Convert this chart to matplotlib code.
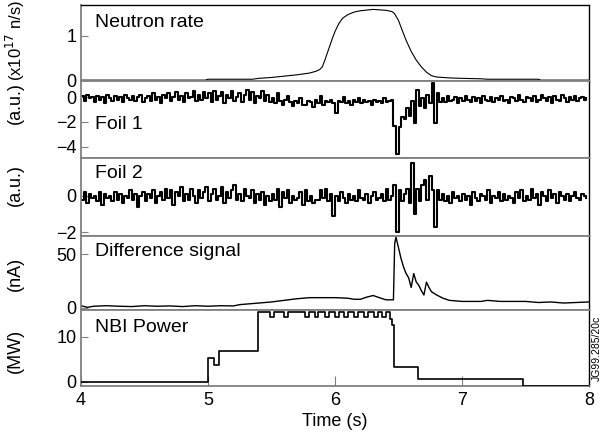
import numpy as np
import matplotlib
matplotlib.use("Agg")
import matplotlib.pyplot as plt

plt.rcParams['font.family'] = ['Liberation Sans', 'DejaVu Sans']

# --- data ---
t_neutron = [4.0, 4.98, 5.0, 5.35, 5.4, 5.5, 5.6, 5.7, 5.8, 5.85, 5.88, 5.9, 5.92, 5.95, 5.98,
             6.0, 6.03, 6.06, 6.1, 6.15, 6.2, 6.3, 6.4, 6.45, 6.47, 6.5, 6.53, 6.56, 6.6,
             6.64, 6.68, 6.72, 6.76, 6.8, 6.9, 7.0, 7.15, 7.2, 7.6, 7.62, 8.0]
neutron = [0, 0, 0.02, 0.02, 0.04, 0.06, 0.09, 0.12, 0.16, 0.2, 0.24, 0.3, 0.45, 0.7, 0.95,
           1.1, 1.28, 1.4, 1.48, 1.54, 1.57, 1.6, 1.58, 1.55, 1.5, 1.35, 1.12, 0.9, 0.65,
           0.45, 0.3, 0.18, 0.1, 0.07, 0.05, 0.04, 0.03, 0.02, 0.02, 0.0, 0.0]

# foil signals sampled every 20 ms from 4.00 s
t_foil = np.arange(200) * 0.02 + 4.0
foil1 = [0.1, -0.3, 0.2, -0.1, 0.0, -0.4, 0.1, -0.2, 0.0, -0.5,
         0.2, -0.1, -0.3, 0.1, -0.2, 0.0, -0.4, 0.2, -0.1, -0.2,
         0.1, -0.3, 0.0, 0.2, -0.4, -0.1, 0.1, -0.3, 0.3, -0.2,
         0.0, -0.5, 0.2, -0.1, 0.3, -0.3, 0.0, 0.4, -0.2, 0.1,
         -0.4, 0.3, -0.1, 0.0, 0.5, -0.3, 0.2, -0.2, 0.4, -0.1,
         0.3, -0.4, 0.5, -0.2, 0.1, 0.4, -0.5, 0.2, -0.1, 0.5,
         -0.3, 0.0, 0.3, -0.4, 0.2, 0.6, -0.2, 0.4, -0.5, 0.1,
         -0.1, 0.5, -0.3, 0.2, -0.4,
         -0.1, -0.5, 0.3, -0.3, -0.6, -0.2, 0.1, -0.4, -0.7, -0.3,
         -0.5, -0.1, -0.6, -0.6, -0.3, -0.4, -0.8, -0.2, -0.5, 0.1,
         -0.6, -0.3, -0.4, -0.2, -0.5, -1.3, -0.3, -0.4, 0.0, -0.5,
         -0.3, -0.6, -0.2, -0.4, -0.1,
         -0.5, -0.2, -0.4, -0.3, -0.6, -0.2, -0.4, -0.3, -0.5, -0.1, -0.4, -0.3, -0.2,
         -2.3, -4.6, -2.4, -1.6, -1.8, -0.9, -1.5, -0.3, -2.1, 0.6,
         -0.7, -0.1, -0.9, 0.2, -0.5, 1.1, -2.1, 0.3, -0.4,
         -0.1, -0.4, 0.1, -0.3, -0.2, 0.0, -0.5, -0.1, -0.3, 0.1,
         -0.2, -0.4, 0.0, -0.3, -0.1, -0.5, 0.1, -0.2, -0.3, 0.0,
         -0.4, -0.1, -0.2, 0.1, -0.3, -0.2, -0.5, 0.0, -0.1, -0.3,
         0.2, -0.2, -0.4, 0.0, -0.1, -0.3, 0.1, -0.4, -0.2, 0.2,
         -0.1, -0.3, 0.0, -0.5, 0.1, -0.2, -0.3, 0.2, -0.1, -0.4,
         0.0, -0.2, 0.1, -0.3, -0.1, 0.0, -0.2, -0.1]
foil2 = [-0.2, 0.2, -0.4, 0.1, -0.1, 0.0, -0.3, 0.2, -0.5, 0.1,
         -0.1, 0.0, -0.3, 0.2, -0.2, 0.1, -0.4, 0.0, -0.1, 0.3,
         -0.2, 0.1, -0.6, 0.0, 0.2, -0.3, 0.1, -0.1, 0.3, -0.4,
         0.0, 0.2, -0.2, 0.4, -0.1, 0.3, -0.5, 0.2, 0.0, 0.5,
         -0.3, 0.1, -0.2, 0.4, 0.0, -0.4, 0.3, -0.1, 0.2, 0.5,
         -0.3, 0.1, 0.4, -0.2, 0.0, 0.5, -0.4, 0.2, -0.1, 0.3,
         0.6, -0.2, 0.1, -0.3, 0.4, 0.0, -0.1, 0.3, -0.4, 0.1,
         -0.2, 0.2, -0.5, 0.0, -0.3, 0.1, -0.2, 0.4, -0.6, 0.2,
         -0.1, 0.3, -0.4, 0.0, -0.2, -0.1, 0.2, -0.5, 0.3, -0.3,
         0.0, -0.4, -0.2, -0.2, 0.3, -0.1, 0.4, -0.3, 0.1, -1.1,
         0.0, -0.3, 0.2, -0.1, -0.4, 0.1, -0.2, 0.0, -0.3, 0.3,
         -0.1, -0.2, 0.1, -0.4, 0.0, 0.2, -0.2, -0.1, 0.1, -0.3,
         0.4, -0.2, 0.0,
         0.6, -2.0, 0.3, -0.3, 0.1, 0.4, -0.4, 1.8, -1.0, 0.4,
         -0.3, 0.6, 0.9, -0.2, 1.1, 0.3, -1.7, 0.3, -0.2,
         0.1, -0.3, 0.0, -0.4, 0.2, -0.1, 0.0, -0.3, 0.1, -0.2,
         0.0, -0.5, 0.2, -0.1, -0.3, 0.1, 0.0, -0.2, 0.3, -0.4,
         0.0, -0.1, 0.2, -0.3, 0.1, -0.2, 0.0, -0.1, -0.4, 0.2,
         -0.1, 0.3, -0.3, 0.0, -0.2, 0.4, -0.1, 0.1, -0.5, 0.2,
         0.0, -0.3, 0.3, -0.1, 0.1, -0.4, 0.2, 0.0, -0.2, 0.1,
         -0.3, 0.0, 0.2, -0.1, -0.2, 0.1, 0.0, -0.1]

t_diff = [4.0, 4.05, 4.1, 4.2, 4.3, 4.4, 4.5, 4.6, 4.7, 4.8, 4.9, 5.0, 5.1, 5.2, 5.25, 5.3,
          5.4, 5.5, 5.6, 5.7, 5.8, 5.9, 6.0, 6.1, 6.15, 6.2, 6.25, 6.3, 6.35, 6.4, 6.46,
          6.47, 6.48, 6.5, 6.52, 6.54, 6.56, 6.58, 6.6, 6.62, 6.64, 6.66, 6.68, 6.7, 6.72,
          6.74, 6.76, 6.8, 6.85, 6.9, 7.0, 7.1, 7.15, 7.2, 7.3, 7.4, 7.5, 7.6, 7.7, 7.8,
          7.9, 8.0]
diff = [2, 0.5, 1.5, 2, 1.5, 1.2, 2, 1.5, 1.8, 1.2, 2, 1.5, 2, 1.8, 3, 3.5,
        4.5, 5.5, 7, 8.5, 9.5, 9.5, 9.5, 9, 8, 8, 10, 11.5, 9.5, 7.5, 7.5,
        60, 66, 56, 46, 38, 32, 28, 19, 32, 24, 21, 16, 12, 24,
        19, 15, 12, 9, 7, 6, 6, 6, 7, 6, 6, 6, 5, 5.5, 4.5,
        5, 5.5]

t_nbi = [4.0, 5.0, 5.05, 5.09, 5.39, 5.49, 5.52, 5.60, 5.63, 5.76, 5.795, 5.84, 5.87, 5.92,
         5.95, 6.0, 6.03, 6.07, 6.10, 6.15, 6.18, 6.23, 6.26, 6.31, 6.34, 6.37, 6.40, 6.43,
         6.45, 6.465, 6.65, 7.48, 8.0]
nbi = [0, 5.2, 3.6, 6.8, 15.4, 14.4, 15.4, 14.4, 15.4, 14.4, 15.4, 14.4, 15.4, 14.4,
       15.4, 14.4, 15.4, 14.4, 15.4, 14.4, 15.4, 14.4, 15.4, 14.4, 15.4, 14.4, 15.4, 14.0,
       12.6, 3.2, 0.6, -0.9, -0.9]

panel_names = ["Neutron rate", "Foil 1", "Foil 2", "Difference signal", "NBI Power"]
y_units = [r"(x10$^{17}$ n/s)", "(a.u.)", "(a.u.)", "(nA)", "(MW)"]
y_ticks = [[0, 1], [0, -2, -4], [0, -2], [0, 50], [0, 10]]
y_limits = [(-0.02, 1.70), (-4.9, 1.3), (-2.2, 2.1), (-2, 67), (-1.0, 15.9)]
x_ticks = [4, 5, 6, 7, 8]

# --- layout (pixel edges from the reference, 610 x 444) ---
W, H = 610, 444
edges = [5, 81, 157.7, 236, 310, 386]
left, right = 81, 589
name_y = [0.77, 0.43, 0.80, 0.79, 0.77]
unit_y = [40, 103, 185, 274, 351]
unit_size = [12, 13, 13, 13, 13]

fig = plt.figure(figsize=(W / 100, H / 100), dpi=100)
grey = "#808080"

axes = []
for i in range(5):
    top, bot = edges[i], edges[i + 1]
    ax = fig.add_axes([left / W, 1 - bot / H, (right - left) / W, (bot - top) / H])
    ax.set_xlim(4, 8)
    ax.set_ylim(*y_limits[i])
    ax.set_yticks(y_ticks[i])
    ax.tick_params(axis="y", direction="in", length=5, width=0.8, labelsize=13, pad=3,
                   color=grey)
    ax.set_xticks(x_ticks)
    if i < 4:
        ax.tick_params(axis="x", bottom=False, labelbottom=False)
    else:
        ax.tick_params(axis="x", direction="in", length=7, width=0.8, labelsize=13, pad=4,
                       color=grey)
    for side in ["left", "bottom", "top"]:
        ax.spines[side].set_color(grey)
        ax.spines[side].set_linewidth(1.3)
    ax.spines["right"].set_color("black")
    ax.spines["right"].set_linewidth(1.0)
    if i == 0:
        ax.spines["top"].set_color("black")
        ax.spines["top"].set_linewidth(1.0)
    ax.text(0.027, name_y[i], panel_names[i], transform=ax.transAxes, fontsize=14,
            va="center", ha="left")
    fig.text(15 / W, 1 - unit_y[i] / H, y_units[i], rotation=90, fontsize=unit_size[i],
             ha="center", va="center")
    axes.append(ax)

axes[0].plot(t_neutron, neutron, color="black", lw=0.8)
axes[1].plot(t_foil, foil1, color="black", lw=1.5, drawstyle="steps-post")
axes[2].plot(t_foil, foil2, color="black", lw=1.5, drawstyle="steps-post")
axes[3].plot(t_diff, diff, color="black", lw=1.0)
axes[4].plot(t_nbi, nbi, color="black", lw=1.2, drawstyle="steps-post", zorder=3)

axes[4].set_xlabel("Time (s)", fontsize=13, labelpad=3)
fig.text(597 / W, 1 - 348 / H, "JG99.285/20c", rotation=90, fontsize=7.5,
         ha="center", va="center")

fig.savefig("out.png", dpi=100)
